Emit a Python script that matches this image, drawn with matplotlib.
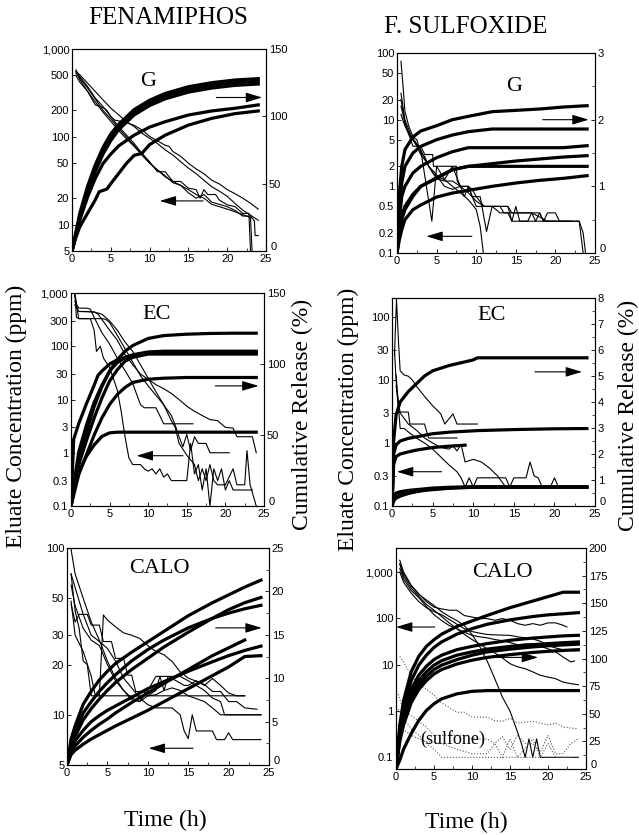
import matplotlib
matplotlib.use('Agg')
import matplotlib.pyplot as plt
from matplotlib.ticker import NullLocator, MultipleLocator
from matplotlib.transforms import ScaledTranslation

plt.rcParams['font.family'] = ['Liberation Sans', 'DejaVu Sans']
SERIF = 'Liberation Serif'

# ---------------- FENAMIPHOS, G ----------------
fg_cum_t = [0, 0.5, 1, 2, 3, 4, 5, 6, 8, 10, 12, 15, 18, 21, 24]
fg_cum = [
    [0, 14, 28, 48, 64, 77, 87, 94, 105, 112, 117, 122, 125, 127, 128],
    [0, 13, 26, 46, 62, 75, 85, 92, 103, 110, 115, 120, 123, 125, 126],
    [0, 12, 24, 43, 59, 72, 82, 90, 101, 108, 113, 118, 121, 123, 124],
    [0, 12, 23, 40, 54, 65, 72, 78, 86, 92, 96, 101, 104, 106, 108.5],
]
fg_cum_slow_t = [0, 0.5, 1, 2, 3, 3.5, 4, 4.5, 5, 6, 7, 8, 9, 10, 12, 15, 18, 21, 24]
fg_cum_slow = [0, 10, 18, 28, 38, 44, 45, 46, 50, 57.5, 65, 71, 72.5, 79, 86, 93.5, 98.5, 102, 104]

fg_c1 = [(0.5, 550), (1, 450), (2, 330), (3, 231), (4, 215), (4.5, 200), (5, 170), (5.5, 155), (6, 152),
         (7, 145), (8, 135), (9, 120), (10, 101), (11, 90), (12, 80), (12.5, 78), (13, 68), (14, 60),
         (15, 50), (16, 43), (17, 38), (18, 32), (19, 29), (20, 25), (21, 22.5), (22, 20), (23, 17.5), (24, 15)]
fg_c2 = [(0.5, 555), (1, 509), (2, 409), (3, 328), (4, 263), (5, 212), (6, 178), (7, 149), (8, 131),
         (9, 110), (10, 96), (11, 84), (12, 71), (13, 62), (14, 52), (15, 44), (16, 38), (17, 32),
         (18, 27), (19, 24), (20, 21), (21, 17.4), (22, 14.6), (23, 12.8), (24, 11.2)]
fg_c3 = [(0.5, 530), (1, 487), (2, 375), (3, 276), (4, 221), (5, 170), (6, 131), (7, 105), (8, 84),
         (9, 65), (10, 52), (11, 40), (12, 40), (13, 31), (14, 31), (15, 26), (16, 25), (16.5, 20),
         (17, 25), (17.5, 22), (18.5, 22), (19, 19), (20, 16.8), (21, 16), (22, 13.4), (22.8, 13.4), (23, 5)]
fg_c4 = [(0.5, 580), (1, 470), (2, 360), (3, 270), (4, 200), (5, 160), (6, 125), (7, 100), (8, 80),
         (9, 63), (10, 50), (11, 42), (12, 35), (13, 31), (14, 28), (15, 23), (16, 20), (17, 22),
         (17.5, 20), (18, 18), (19, 17), (20, 16), (21, 14.5), (22, 12.5), (23, 12.5), (23.5, 11),
         (23.6, 7.5), (24, 7.5)]
fg_c5 = [(0.5, 500), (1, 420), (2, 330), (3, 250), (4, 190), (5, 150), (6, 118), (7, 95), (8, 78),
         (9, 62), (10, 50), (11, 42), (12, 36), (13, 30), (14, 28), (15, 25), (16, 22), (17, 20),
         (18, 17), (19, 16), (20, 15), (21, 14), (22, 13), (23, 12), (23.2, 5)]

# ---------------- F. SULFOXIDE, G ----------------
sg_cum_t = [0, 0.3, 0.6, 1, 2, 3, 5, 7, 9, 12, 15, 18, 21, 24]
sg_cum = [
    [0, 0.9, 1.3, 1.55, 1.74, 1.83, 1.91, 2.0, 2.05, 2.12, 2.14, 2.16, 2.19, 2.21],
    [0, 0.7, 1.05, 1.3, 1.5, 1.6, 1.7, 1.77, 1.82, 1.86, 1.86, 1.86, 1.86, 1.86],
    [0, 0.5, 0.85, 1.0, 1.2, 1.3, 1.43, 1.52, 1.58, 1.58, 1.58, 1.58, 1.58, 1.61],
    [0, 0.3, 0.55, 0.7, 0.88, 1.0, 1.12, 1.25, 1.3, 1.34, 1.38, 1.41, 1.44, 1.46],
    [0, 0.3, 0.5, 0.65, 0.85, 1.0, 1.13, 1.25, 1.3, 1.3, 1.3, 1.3, 1.3, 1.3],
    [0, 0.2, 0.35, 0.5, 0.65, 0.72, 0.84, 0.9, 0.94, 1.0, 1.05, 1.09, 1.12, 1.16],
]
sg_c1 = [(0.5, 75), (0.8, 28), (1, 13.3), (1.5, 7.9), (2, 5.6), (2.5, 5), (3, 3.2), (3.5, 2.8),
         (4, 2.0), (4.5, 1.6), (5, 1.4), (6, 1.26), (7, 1.0), (8, 0.8), (9, 0.63), (10, 0.45),
         (10.5, 0.25), (10.9, 0.1)]
sg_c2 = [(0.5, 16), (1, 8.9), (1.5, 6.3), (2, 5.3), (3, 3.5), (4.4, 0.3), (5, 2.0), (6, 1.26),
         (7, 2.0), (8, 1.0), (8.5, 0.7), (9, 1.0), (9.5, 0.7), (10.5, 0.7), (11.3, 0.21), (12, 0.5),
         (14, 0.5), (14.5, 0.3), (15, 0.5), (15.5, 0.3), (16.5, 0.3), (17, 0.4), (17.5, 0.3),
         (18, 0.4), (18.5, 0.3), (19, 0.4), (20, 0.4), (20.5, 0.3), (23, 0.3), (23.5, 0.1)]
sg_c3 = [(0.5, 20), (1, 9), (1.5, 6), (2, 4), (3, 4), (3.5, 3), (4.5, 3), (4.6, 2), (7.5, 2),
         (7.6, 1.2), (8, 1.0), (9, 1.0), (9.5, 0.7), (10, 0.5), (14, 0.5), (14.5, 0.4), (18, 0.4),
         (18.5, 0.3), (23, 0.3), (23.5, 0.2), (23.8, 0.1)]
sg_c4 = [(0.5, 12), (1, 8), (1.5, 6), (2, 5), (2.5, 4), (3, 3), (3.5, 2.5), (4, 2), (5, 1.5),
         (5.5, 1.2), (6, 1.0), (7, 0.9), (8, 1.0), (9, 1.0), (9.5, 0.9), (10, 0.7), (11, 0.5),
         (12, 0.5), (13, 0.4), (14, 0.4), (14.5, 0.3), (20, 0.3)]
sg_c5 = [(0.5, 25), (1, 10), (1.5, 7), (2, 5), (3, 3.5), (4, 2.0), (5, 1.3), (6, 1.2), (7, 1.2),
         (8, 1.0), (9, 0.8), (10, 0.6), (11, 0.5), (13, 0.5), (13.5, 0.4), (17, 0.4), (19, 0.3), (22, 0.3)]

# ---------------- FENAMIPHOS, EC ----------------
fe_cum_t = [0, 0.5, 1, 2, 3, 4, 5, 6, 7, 8, 10, 12, 15, 18, 21, 24]
fe_cum = [
    [0, 15, 30, 52, 70, 84, 95, 103, 109, 113, 118, 120, 121, 121.5, 121.7, 121.7],
    [0, 20, 38, 57, 73, 85, 95, 101, 104.5, 106.5, 108.5, 109, 109, 109, 109, 109],
    [0, 14, 29, 46, 62, 76, 88, 96, 102, 104.7, 107, 107, 107, 107, 107, 107],
    [0, 11, 22, 36, 50, 62, 71.5, 78.5, 83.5, 87, 89.3, 90, 90.5, 90.5, 90.5, 90.5],
    [0, 15, 24, 35, 43, 49, 51.5, 52, 52, 52, 52, 52, 52, 52, 52, 52],
]
fe_cum_fast_t = [0, 0.35, 1, 2, 3, 3.5, 4, 5, 6, 7, 8, 10, 12, 24]
fe_cum_fast = [0, 47, 58, 72, 85, 92, 95, 100, 103, 104.7, 106, 107.5, 108, 108]

fe_c1 = [(0.5, 1000), (0.8, 500), (1, 450), (2, 450), (3, 440), (3.5, 400), (4, 320), (5, 200),
         (6, 130), (7, 70), (8, 45), (9, 30), (10, 24), (11, 19), (12, 16), (13, 13), (14, 10),
         (15, 7.5), (16, 6), (17, 5), (18, 4.2), (19, 4), (20, 3), (21, 2.9), (21.5, 2), (23.5, 2), (24, 1)]
fe_c2 = [(0.5, 900), (1, 330), (4, 330), (4.5, 320), (5, 280), (6, 160), (7, 90), (8, 50), (9, 28),
         (10, 18), (11, 12), (12, 8), (13, 5), (13.5, 3.3), (14, 2), (14.5, 1.3), (15, 2.2), (15.5, 1.1),
         (16, 2.0), (16.5, 1.5), (17.5, 1.5), (18, 1.0), (20.5, 1.0)]
fe_c3 = [(0.5, 700), (1, 520), (2, 520), (2.5, 500), (3, 350), (4, 180), (5, 110), (6, 60), (7, 35),
         (8, 20), (9, 8), (9.5, 7), (11, 7), (11.5, 5), (12, 3.5), (15.8, 3.5)]
fe_c4 = [(0.5, 1000), (0.7, 350), (1, 330), (2.5, 330), (3, 200), (3.3, 80), (3.8, 100), (4.2, 60),
         (5, 40), (6, 15), (6.5, 6), (7, 2), (7.5, 0.8), (8, 0.6), (9, 0.6), (9.5, 0.5), (10, 0.45),
         (10.5, 0.5), (11, 0.4), (11.5, 0.5), (12, 0.35), (12.5, 0.4), (13, 0.3), (15, 0.3), (15.5, 1.5),
         (16, 0.4), (16.5, 0.6), (17, 0.2), (17.5, 0.5), (18, 0.1), (18.5, 0.5), (19, 0.3), (19.5, 0.5),
         (20, 0.2), (20.5, 0.3), (21, 0.2), (23.5, 0.2)]
fe_c5 = [(0.5, 600), (1, 450), (3, 440), (4, 400), (5, 300), (6, 200), (7, 120), (8, 80), (9, 45),
         (10, 25), (11, 14), (12, 8), (13, 4), (13.5, 3), (14, 1.5), (15, 0.9), (16, 0.6), (16.5, 0.3),
         (17, 0.5), (17.5, 0.3), (18, 0.6), (18.5, 0.3), (19, 0.25), (20, 0.25), (21, 0.5), (21.5, 0.25),
         (22.5, 0.25), (22.8, 1.1), (23.2, 0.25), (24, 0.1)]

# ---------------- F. SULFOXIDE, EC ----------------
se_cum_t = [0, 0.2, 0.5, 1, 2, 3, 4, 5, 7, 10, 10.5, 15, 20, 24]
se_cum = [
    [0, 2.5, 3.5, 4.0, 4.4, 4.7, 5.0, 5.2, 5.4, 5.62, 5.7, 5.7, 5.7, 5.7],
    [0, 2.0, 2.35, 2.5, 2.6, 2.66, 2.72, 2.78, 2.84, 2.89, 2.9, 2.94, 2.97, 2.98],
    [0, 0.4, 0.5, 0.55, 0.6, 0.63, 0.66, 0.69, 0.72, 0.74, 0.74, 0.74, 0.74, 0.74],
    [0, 0.25, 0.35, 0.45, 0.53, 0.58, 0.62, 0.65, 0.7, 0.73, 0.73, 0.73, 0.73, 0.73],
    [0, 0.2, 0.3, 0.38, 0.48, 0.55, 0.6, 0.63, 0.68, 0.72, 0.72, 0.72, 0.72, 0.72],
]
se_cum_short_t = [0, 0.2, 0.5, 1, 2, 3, 5, 7, 9]
se_cum_short = [0, 1.6, 1.9, 2.0, 2.08, 2.15, 2.25, 2.3, 2.34]

se_c1 = [(0.3, 25), (0.55, 190), (0.8, 40), (1, 14), (1.5, 12), (2, 11.5), (2.5, 10), (3, 8),
         (4, 5.5), (5, 3.9), (6, 2.9), (6.5, 2.0), (7.5, 2.9), (8, 2.0), (10.5, 2.0)]
se_c2 = [(0.3, 30), (0.5, 10), (0.8, 3.1), (2, 3.1), (2.2, 2.0), (4, 2.0), (4.5, 1.2), (8, 1.2)]
se_c3 = [(0.5, 12), (1, 1.7), (1.5, 1.7), (2, 1.5), (3, 1.2), (4, 1.0), (5, 0.8), (6, 0.6), (7, 0.45),
         (8, 0.35), (8.5, 0.28), (9, 0.2), (9.5, 0.28), (10, 0.2), (10.5, 0.28), (14, 0.28), (14.5, 0.2),
         (15, 0.28), (16.5, 0.28), (17, 0.5), (17.5, 0.3), (18, 0.28), (18.5, 0.2), (19.5, 0.2),
         (20, 0.28), (20.5, 0.2)]
se_c4 = [(0.5, 8), (1, 3), (2, 2), (3, 1.6), (4, 1.2), (5, 1.0), (6, 0.85), (7, 0.8), (7.5, 0.9),
         (8, 0.75), (8.5, 0.95), (9, 0.5), (10, 0.55), (11, 0.5), (12, 0.4), (13, 0.3), (14, 0.2)]

# ---------------- FENAMIPHOS, CALO ----------------
fc_cum_t = [0, 0.5, 1, 2, 3, 4, 5, 6, 8, 10, 12, 15, 18, 20, 22, 24]
fc_cum = [
    [0, 3, 4.5, 7.0, 8.5, 9.8, 10.8, 11.7, 13.0, 14.2, 15.4, 17.2, 18.7, 19.6, 20.5, 21.3],
    [0, 2.2, 3.3, 5.2, 6.5, 7.6, 8.6, 9.5, 11.0, 12.3, 13.6, 15.3, 16.9, 17.9, 18.7, 19.3],
    [0, 2.5, 3.8, 6.0, 7.3, 8.5, 9.5, 10.4, 12.0, 13.3, 14.4, 15.8, 16.9, 17.5, 18.0, 18.4],
    [0, 1.8, 2.8, 4.0, 5.0, 5.7, 6.3, 6.8, 7.8, 8.8, 9.6, 10.8, 11.9, 12.6, 13.2, 13.7],
    [0, 1.2, 1.7, 2.4, 3.0, 3.5, 4.0, 4.5, 5.4, 6.3, 7.3, 8.8, 10.3, 11.3, 12.5, 12.6],
]
fc_cum_short_t = [0, 0.5, 1, 2, 3, 4, 5, 6, 8, 10, 12, 15, 18, 20, 22]
fc_cum_short = [0, 1.5, 2.2, 3.2, 4.0, 4.7, 5.3, 6.0, 7.2, 8.3, 9.4, 11.0, 12.6, 13.5, 14.4]

fc_c1 = [(0.5, 98), (1, 70), (2, 50), (3, 36), (4, 28), (5, 21), (6, 16.6), (7, 14), (8, 12.3), (9, 12),
         (10, 13), (11, 13.2), (12, 14), (13, 14.5), (14, 14), (15, 13), (16, 12.5), (17, 12), (18, 11),
         (19, 10), (24, 10)]
fc_c2 = [(0.5, 70), (1, 42), (1.5, 33), (2, 21), (2.5, 20), (3, 13), (22, 13)]
fc_c3 = [(0.5, 70), (1, 58), (2, 40), (3, 30), (4, 27.5), (5, 25), (6, 21), (7, 16.6), (8, 14.5),
         (9, 12.6), (10, 11.5), (11, 11), (13, 11), (14, 10), (14.5, 8), (15, 7.2), (15.5, 10), (16, 8),
         (18, 8), (18.5, 7.1), (19.5, 7.1), (20, 7.8), (20.5, 7.1), (24, 7.1)]
fc_c4 = [(0.5, 46), (1, 36), (1.5, 40), (2.5, 40), (3, 34.5), (4, 34.5), (4.5, 27.5), (5.5, 27.5),
         (6, 21.8), (7, 21.8), (7.5, 17.3), (8, 17.3), (8.5, 13.8), (9.5, 13.8), (10, 13), (11, 14),
         (11.5, 17), (12, 14), (12.5, 17), (13.5, 16), (14.5, 15), (15, 15), (16, 16), (17, 15),
         (18, 16.5), (19, 15), (20, 13.5), (21, 13), (22, 13)]
fc_c5 = [(0.5, 48), (1, 30), (2, 24), (3, 17), (3.5, 13), (4, 13), (4.5, 39.7), (5, 37), (6, 33.7),
         (7, 31), (8, 30), (9, 28.7), (10, 26), (11, 24), (12, 22.9), (13, 20.9), (14, 18.1), (15, 16.6),
         (16, 15.9), (17, 15.2), (18, 13.8), (19, 13.8), (20, 12), (21, 12), (22, 11), (23.5, 10.8)]
fc_c6 = [(0.5, 60), (1, 45), (2, 33), (3, 28), (4, 26), (5, 20), (6, 16), (7, 14), (8, 12.6), (9, 12),
         (10, 14), (11, 17), (14, 17), (15, 16), (16, 15), (17, 14), (18, 12.6), (19, 12), (19.5, 10),
         (24, 10)]

# ---------------- F. SULFOXIDE, CALO ----------------
sc_cum_t = [0, 0.5, 1, 2, 3, 4, 5, 6, 8, 10, 12, 15, 18, 20, 22, 24]
sc_cum = [
    [0, 40, 62, 88, 102, 111, 117, 122, 129, 134, 139, 146, 152, 156, 160, 160],
    [0, 35, 55, 80, 94, 103, 110, 115, 122, 127, 131, 135, 138, 139.5, 140.5, 141.5],
    [0, 33, 50, 72, 85, 93, 99, 103, 108, 111, 113.5, 116.5, 118.5, 119.5, 120.5, 121],
    [0, 30, 47, 68, 80, 88, 94, 98, 103, 106, 108.5, 111, 112.5, 113.5, 114.3, 115],
    [0, 28, 44, 64, 76, 84, 90, 94, 99, 103, 106, 108.5, 110.5, 111.5, 112.3, 113],
    [0, 25, 40, 60, 72, 80, 86, 90, 95, 98.5, 101, 103.5, 105.5, 106.5, 107.3, 108],
    [0, 8, 18, 32, 44, 53, 59, 63.5, 68, 70.3, 71, 71, 71, 71, 71, 71],
]
sc_c1 = [(0.5, 1800), (1, 1000), (2, 520), (3, 340), (4, 230), (5, 175), (6, 160), (7, 150), (8, 150),
         (9, 115), (10, 107), (11, 99), (12, 99), (13, 91), (14, 99), (15, 91), (16, 77), (17, 71),
         (18, 77), (19, 71), (20, 80), (21, 80), (22, 71), (22.5, 65)]
sc_c2 = [(0.5, 1500), (1, 900), (2, 500), (3, 330), (4, 250), (5, 190), (6, 140), (7, 110), (8, 90),
         (9, 70), (10, 45), (11, 25), (12, 12), (13, 5), (14, 2), (15, 1), (16, 0.35), (16.5, 0.2),
         (17, 0.1), (17.5, 0.25), (18, 0.1), (18.5, 0.25), (19, 0.1), (24, 0.1)]
sc_c3 = [(0.5, 1500), (1, 800), (2, 450), (3, 300), (4, 200), (5, 150), (6, 110), (7, 80), (8, 60),
         (9, 45), (10, 35), (11, 28), (12, 22), (13, 18), (14, 14), (15, 10.5), (16, 9), (17, 8.2),
         (18, 7), (19, 5.9), (20, 5.4), (21, 5), (22, 4.2), (23, 3.9), (24, 3.7)]
sc_c4 = [(0.5, 1200), (1, 700), (2, 400), (3, 280), (4, 180), (5, 120), (6, 90), (7, 70), (8, 60),
         (9, 50), (10, 43), (11, 40), (12, 38), (13, 35), (14, 33), (15, 30), (16, 27), (17, 28),
         (18, 28), (19, 25), (20, 22), (21, 19), (22, 14.6), (23, 11.5), (23.5, 12)]
sc_c5 = [(0.5, 1000), (1, 600), (2, 350), (3, 230), (4, 170), (5, 140), (6, 120), (7, 95), (8, 75),
         (9, 60), (10, 52), (11, 48), (12, 45), (13, 44), (15, 43), (16, 40), (17, 38), (18, 36),
         (19, 32), (20, 26), (21, 23), (22, 21), (23, 20), (24, 20)]
# sulfone (dotted)
sc_d1 = [(0.5, 15), (1, 11.4), (2, 5.9), (3, 3.6), (4, 3.0), (5, 2.2), (6, 1.5), (7, 1.2), (8, 0.94),
         (9, 0.94), (10, 0.74), (12, 0.74), (13, 0.62), (14, 0.6), (15, 0.7), (16, 0.55), (18, 0.6),
         (20, 0.5), (21, 0.55), (22, 0.45), (24, 0.41)]
sc_d2 = [(0.3, 2.3), (1, 1.0), (2, 0.8), (3, 0.6), (4, 0.45), (5, 0.3), (9, 0.3), (10, 0.25), (12, 0.25),
         (13, 0.2), (14, 0.28), (15, 0.15), (16, 0.3), (17, 0.2), (18, 0.2), (19, 0.13), (20, 0.3),
         (21, 0.12), (22, 0.12), (23, 0.2), (24, 0.25)]
sc_d3 = [(0.3, 1.1), (1, 0.7), (2, 0.41), (3, 0.3), (4, 0.2), (5, 0.15), (6, 0.1), (24, 0.1)]
sc_d4 = [(0.3, 0.5), (1, 0.4), (2, 0.3), (3, 0.25), (4, 0.22), (6, 0.2), (8, 0.15), (10, 0.12),
         (12, 0.12), (13, 0.2), (14, 0.1), (15, 0.25), (16, 0.1), (18, 0.25), (19, 0.1), (20, 0.2),
         (21, 0.1), (23, 0.1)]

THICK = 2.3
THIN = 0.8

fig = plt.figure(figsize=(6.39, 8.35), dpi=100)


def make_panel(rect, ylim, yticks, ylabels, rmax, rstep, rminor):
    ax = fig.add_axes(rect)
    ax.set_yscale('log')
    ax.set_ylim(*ylim)
    ax.set_yticks(yticks, ylabels)
    ax.yaxis.set_minor_locator(NullLocator())
    ax.set_xlim(0, 25)
    ax.set_xticks(range(0, 26, 5))
    ax.xaxis.set_minor_locator(MultipleLocator(2.5))
    ax2 = ax.twinx()
    ax2.set_ylim(0, rmax)
    ax2.set_yticks([rstep * i for i in range(int(round(rmax / rstep)) + 1)])
    if rminor:
        ax2.yaxis.set_minor_locator(MultipleLocator(rminor))
    for a in (ax, ax2):
        a.tick_params(which='major', direction='in', length=3, width=0.6, labelsize=8, pad=2)
        a.tick_params(which='minor', direction='in', length=2, width=0.5)
        for s in a.spines.values():
            s.set_linewidth(0.8)
    # the right-hand "0" sits a little above the last x label, as in the original
    zero = ax2.yaxis.get_major_ticks()[0].label2
    zero.set_transform(zero.get_transform() + ScaledTranslation(1 / 72, 3.5 / 72, fig.dpi_scale_trans))
    return ax, ax2


def conc(ax, pts, style='-', lw=THIN, color='black'):
    ax.plot([p[0] for p in pts], [p[1] for p in pts], style, color=color, lw=lw)


def arrow(ax, x0, x1, y):
    ax.annotate('', xy=(x1, y), xytext=(x0, y),
                arrowprops=dict(arrowstyle='-|>,head_length=1.0,head_width=0.3', color='black',
                                lw=0.8, mutation_scale=10, shrinkA=0, shrinkB=0))


def label(ax, txt, x, y):
    ax.text(x, y, txt, transform=ax.transAxes, ha='center', va='center',
            fontsize=16, family=SERIF)


# Panel 1: Fenamiphos G
ax, ax2 = make_panel([0.1127, 0.6994, 0.3036, 0.2419], (5, 1000),
                     [5, 10, 20, 50, 100, 200, 500, 1000],
                     ['5', '10', '20', '50', '100', '200', '500', '1,000'], 150, 50, None)
for c in fg_cum:
    ax2.plot(fg_cum_t, c, color='black', lw=THICK)
ax2.plot(fg_cum_slow_t, fg_cum_slow, color='black', lw=THICK)
for pts in (fg_c1, fg_c2, fg_c3, fg_c4, fg_c5):
    conc(ax, pts)
arrow(ax2, 18.6, 24.5, 114)
arrow(ax, 16.9, 11.3, 18.6)
label(ax, 'G', 0.39, 0.84)

# Panel 2: F. Sulfoxide G
ax, ax2 = make_panel([0.6213, 0.6970, 0.3099, 0.2395], (0.1, 100),
                     [0.1, 0.2, 0.5, 1, 2, 5, 10, 20, 50, 100],
                     ['0.1', '0.2', '0.5', '1', '2', '5', '10', '20', '50', '100'], 3, 1, 0.5)
for c in sg_cum:
    ax2.plot(sg_cum_t, c, color='black', lw=THICK)
for pts in (sg_c1, sg_c2, sg_c3, sg_c4, sg_c5):
    conc(ax, pts)
arrow(ax2, 18.4, 24.2, 2.0)
arrow(ax, 9.45, 3.7, 0.178)
label(ax, 'G', 0.59, 0.833)

# Panel 3: Fenamiphos EC
ax, ax2 = make_panel([0.1111, 0.3940, 0.3020, 0.2551], (0.1, 1000),
                     [0.1, 0.3, 1, 3, 10, 30, 100, 300, 1000],
                     ['0.1', '0.3', '1', '3', '10', '30', '100', '300', '1,000'], 150, 50, None)
for c in fe_cum:
    ax2.plot(fe_cum_t, c, color='black', lw=THICK)
ax2.plot(fe_cum_fast_t, fe_cum_fast, color='black', lw=THICK)
for pts in (fe_c1, fe_c2, fe_c3, fe_c4, fe_c5):
    conc(ax, pts)
arrow(ax2, 18.7, 24.3, 84.6)
arrow(ax, 14.5, 8.5, 0.88)
label(ax, 'EC', 0.445, 0.90)

# Panel 4: F. Sulfoxide EC
ax, ax2 = make_panel([0.6135, 0.3940, 0.3177, 0.2491], (0.1, 200),
                     [0.1, 0.3, 1, 3, 10, 30, 100],
                     ['0.1', '0.3', '1', '3', '10', '30', '100'], 8, 1, 0.5)
for c in se_cum:
    ax2.plot(se_cum_t, c, color='black', lw=THICK)
ax2.plot(se_cum_short_t, se_cum_short, color='black', lw=THICK)
for pts in (se_c1, se_c2, se_c3, se_c4):
    conc(ax, pts)
arrow(ax2, 17.6, 23.4, 5.16)
arrow(ax, 6.1, 0.6, 0.35)
label(ax, 'EC', 0.49, 0.917)

# Panel 5: Fenamiphos CALO
ax, ax2 = make_panel([0.1049, 0.0838, 0.3161, 0.2599], (5, 100),
                     [5, 10, 20, 30, 50, 100],
                     ['5', '10', '20', '30', '50', '100'], 25, 5, 2.5)
for c in fc_cum:
    ax2.plot(fc_cum_t, c, color='black', lw=THICK)
ax2.plot(fc_cum_short_t, fc_cum_short, color='black', lw=THICK)
for pts in (fc_c1, fc_c2, fc_c3, fc_c4, fc_c5, fc_c6):
    conc(ax, pts)
arrow(ax2, 18.4, 24.1, 15.8)
arrow(ax, 15.6, 10.1, 6.3)
label(ax, 'CALO', 0.458, 0.905)

# Panel 6: F. Sulfoxide CALO
ax, ax2 = make_panel([0.6197, 0.0790, 0.2973, 0.2647], (0.056, 3300),
                     [0.1, 1, 10, 100, 1000],
                     ['0.1', '1', '10', '100', '1,000'], 200, 25, 12.5)
for c in sc_cum:
    ax2.plot(sc_cum_t, c, color='black', lw=THICK)
for pts in (sc_c1, sc_c2, sc_c3, sc_c4, sc_c5):
    conc(ax, pts)
for pts in (sc_d1, sc_d2, sc_d3, sc_d4):
    conc(ax, pts, style=':', lw=0.8, color='#555555')
arrow(ax, 5.1, 0.0, 65)
arrow(ax2, 12.8, 18.7, 101)
label(ax, 'CALO', 0.56, 0.89)
ax.text(7.5, 0.25, '(sulfone)', fontsize=13, family=SERIF, ha='center', va='center')

# Column titles and shared axis labels
fig.text(168 / 639, 1 - 18 / 835, 'FENAMIPHOS', fontsize=18, family=SERIF, ha='center', va='center')
fig.text(466 / 639, 1 - 27 / 835, 'F. SULFOXIDE', fontsize=18, family=SERIF, ha='center', va='center')
fig.text(16 / 639, 1 - 416 / 835, 'Eluate Concentration (ppm)', fontsize=17, family=SERIF,
         rotation=90, ha='center', va='center')
fig.text(348 / 639, 1 - 419 / 835, 'Eluate Concentration (ppm)', fontsize=17, family=SERIF,
         rotation=90, ha='center', va='center')
fig.text(302 / 639, 1 - 414 / 835, 'Cumulative Release (%)', fontsize=17, family=SERIF,
         rotation=90, ha='center', va='center')
fig.text(628 / 639, 1 - 415 / 835, 'Cumulative Release (%)', fontsize=17, family=SERIF,
         rotation=90, ha='center', va='center')
fig.text(165 / 639, 1 - 820 / 835, 'Time (h)', fontsize=17, family=SERIF, ha='center', va='center')
fig.text(466 / 639, 1 - 822 / 835, 'Time (h)', fontsize=17, family=SERIF, ha='center', va='center')

fig.savefig('out.png', dpi=100)
